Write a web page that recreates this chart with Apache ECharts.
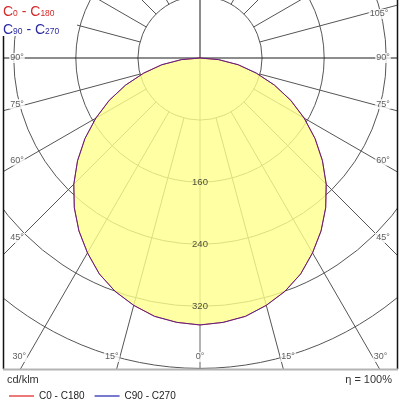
<!DOCTYPE html>
<html><head><meta charset="utf-8">
<script src="https://cdn.jsdelivr.net/npm/echarts@6/dist/echarts.min.js"></script>
<style>html,body{margin:0;padding:0;background:#fff}#c{width:400px;height:400px}</style>
</head><body><div id="c"></div>
<script>
// ---- data (cd/klm) ----
const gammaDeg = [0,5,10,15,20,25,30,35,40,45,50,55,60,65,70,75,80,85,90];
const intensityC0C180  = [344,342,338,330,320,307,290,272,252,230,206,181,155,129,102,75,50,24,0];
const intensityC90C270 = [344,342,338,330,320,307,290,272,252,230,206,181,155,129,102,75,50,24,0];
const radialTickValues = [160,240,320];
const angleLabelsRight = [0,15,30,45,60,75,90,105];
const angleLabelsLeft  = [15,30,45,60,75,90];
const legendNames = ['C0 - C180','C90 - C270'];
const unitText = 'cd/klm';
const effText = '\u03b7 = 100%';

// ---- layout ----
const FONT = '"Liberation Sans", Arial, sans-serif';
const CX = 200, CY = 58, PX_PER_UNIT = 0.776, R_MAX = 480, R_STEP = 80;
const R_PX = R_MAX * PX_PER_UNIT;
const INSET = {left:17, right:383, bottom:357, top:5};

function planeData(values){
  const d = [];
  for (let i = gammaDeg.length - 1; i >= 1; i--) d.push([values[i], -gammaDeg[i]]);
  for (let i = 0; i < gammaDeg.length; i++) d.push([values[i], gammaDeg[i]]);
  return d;
}
function angleLabelItem(g, side){
  const rad = g * Math.PI / 180;
  const dx = side * Math.sin(rad), dy = Math.cos(rad);
  let t = Infinity, onBottom = false;
  if (dx > 1e-6) t = Math.min(t, (INSET.right - CX) / dx);
  if (dx < -1e-6) t = Math.min(t, (INSET.left - CX) / dx);
  if (dy > 1e-6) { const tb = (INSET.bottom - CY) / dy; if (tb < t) { t = tb; onBottom = true; } }
  if (dy < -1e-6) t = Math.min(t, (INSET.top - CY) / dy);
  let offset = onBottom ? [g > 0 ? side * 8 : 0, 0] : [0, -3];
  if (g === 90) offset = [0, 0];
  if (g > 90) offset = [-side * 4, 5];
  return {value: [t / PX_PER_UNIT, side > 0 ? -g : g], name: g + '\u00b0', label: {offset: offset}};
}
const nTicks = 360 / 15 + 1;
const mainColors = [], rayColors = [];
for (let i = 0; i < nTicks; i++) {
  if (i % 6 === 0) { mainColors.push(i === 12 ? '#666' : '#1a1a1a'); rayColors.push('rgba(0,0,0,0)'); }
  else { mainColors.push('rgba(0,0,0,0)'); rayColors.push('#555'); }
}
const angleLabelData = angleLabelsRight.map(g => angleLabelItem(g, 1))
  .concat(angleLabelsLeft.map(g => angleLabelItem(g, -1)));
const radialLabelData = radialTickValues.map(v => ({value: [v, 0], name: String(v)}));

const hiddenAxis = {axisLine:{show:false}, axisTick:{show:false}, axisLabel:{show:false}, splitArea:{show:false}};
const chart = echarts.init(document.getElementById('c'), null, {renderer:'canvas'});
chart.setOption({
  animation: false,
  polar: [
    {center:[CX, CY], radius: R_PX},
    {center:[CX, CY], radius: [R_STEP * PX_PER_UNIT, R_PX]}
  ],
  angleAxis: [
    Object.assign({polarIndex:0, type:'value', min:-180, max:180, interval:15, startAngle:90, clockwise:true,
      splitLine:{show:true, lineStyle:{color:mainColors, width:1}}}, hiddenAxis),
    Object.assign({polarIndex:1, type:'value', min:-180, max:180, interval:15, startAngle:90, clockwise:true,
      splitLine:{show:true, lineStyle:{color:rayColors, width:1}}}, hiddenAxis)
  ],
  radiusAxis: [
    Object.assign({polarIndex:0, type:'value', min:0, max:R_MAX, interval:R_STEP,
      splitLine:{show:true, lineStyle:{color:'#555', width:1}}}, hiddenAxis),
    Object.assign({polarIndex:1, type:'value', min:0, max:R_MAX, interval:R_STEP,
      splitLine:{show:false}}, hiddenAxis)
  ],
  legend: {
    data: legendNames.map(n => ({name:n, icon:'rect'})),
    left: 4, top: 386, itemWidth: 25, itemHeight: 1.2, itemGap: 10, z: 200,
    selectedMode: false,
    textStyle: {fontSize:10, color:'#222', fontFamily:FONT}
  },
  series: [
    {type:'line', name:legendNames[0], coordinateSystem:'polar', polarIndex:0, data:planeData(intensityC0C180),
     symbol:'none', smooth:false, color:'#e02020', lineStyle:{color:'#e02020', width:1},
     areaStyle:{color:'#ffff8c', opacity:0.8}, z:3, silent:true},
    {type:'line', name:legendNames[1], coordinateSystem:'polar', polarIndex:0, data:planeData(intensityC90C270),
     symbol:'none', smooth:false, color:'#2020b0', lineStyle:{color:'#2020b0', width:1, opacity:0.7}, z:4, silent:true},
    {type:'scatter', coordinateSystem:'polar', polarIndex:0, data:angleLabelData, symbolSize:1, silent:true, z:6,
     itemStyle:{color:'rgba(0,0,0,0)'},
     label:{show:true, position:'inside', formatter:p => p.name, fontSize:9, color:'#333', fontFamily:FONT,
            backgroundColor:'#fff', padding:[1,1,0,1]}},
    {type:'scatter', coordinateSystem:'polar', polarIndex:0, data:radialLabelData, symbolSize:1, silent:true, z:6,
     itemStyle:{color:'rgba(0,0,0,0)'},
     label:{show:true, position:'inside', formatter:p => p.name, fontSize:9.5, color:'#222', fontFamily:FONT}}
  ],
  graphic: [
    {type:'rect', shape:{x:0, y:369, width:400, height:31}, style:{fill:'#fff'}, z:50, silent:true},
    {type:'rect', shape:{x:398, y:0, width:2, height:369}, style:{fill:'#fff'}, z:50, silent:true},
    {type:'rect', shape:{x:0, y:0, width:3, height:369}, style:{fill:'#fff'}, z:50, silent:true},
    {type:'line', shape:{x1:3.5, y1:0, x2:3.5, y2:369}, style:{stroke:'#111', lineWidth:1.5}, z:60, silent:true},
    {type:'line', shape:{x1:397.5, y1:0, x2:397.5, y2:369}, style:{stroke:'#111', lineWidth:1.5}, z:60, silent:true},
    {type:'line', shape:{x1:3, y1:369.5, x2:398, y2:369.5}, style:{stroke:'#b4b4b4', lineWidth:2}, z:60, silent:true},
    {type:'rect', shape:{x:0, y:0, width:77, height:36}, style:{fill:'#fff'}, z:70, silent:true},
    {type:'text', x:3, y:1, z:200, silent:true, style:{
      text:'{c|C}{s|0}{c| - C}{s|180}', fill:'#d42a2a',
      rich:{c:{fontSize:14, fontFamily:FONT, fill:'#d42a2a', lineHeight:18, verticalAlign:'bottom'},
            s:{fontSize:8.5, fontFamily:FONT, fill:'#d42a2a', lineHeight:18, verticalAlign:'bottom', padding:[0,0,1,0]}}}},
    {type:'text', x:3, y:19, z:200, silent:true, style:{
      text:'{c|C}{s|90}{c| - C}{s|270}', fill:'#2a2aa0',
      rich:{c:{fontSize:14, fontFamily:FONT, fill:'#2a2aa0', lineHeight:18, verticalAlign:'bottom'},
            s:{fontSize:8.5, fontFamily:FONT, fill:'#2a2aa0', lineHeight:18, verticalAlign:'bottom', padding:[0,0,1,0]}}}},
    {type:'text', x:7, y:374, z:200, silent:true, style:{text:unitText, fontSize:11, fontFamily:FONT, fill:'#333'}},
    {type:'text', right:8, top:374, z:200, silent:true, style:{text:effText, fontSize:11, fontFamily:FONT, fill:'#333'}}
  ]
});
</script></body></html>
